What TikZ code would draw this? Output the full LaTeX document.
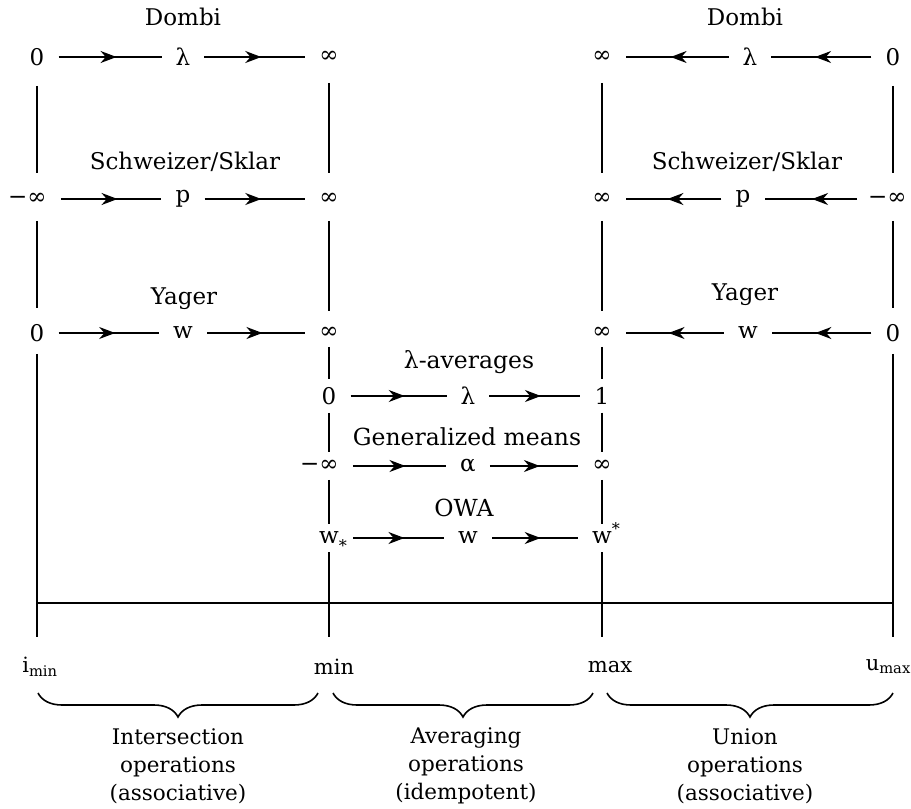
\documentclass[tikz,border=0pt]{standalone}
\usepackage{fontspec}
\setmainfont{DejaVu Serif}
\usetikzlibrary{arrows.meta,decorations.markings,decorations.pathreplacing}
\begin{document}
\begin{tikzpicture}[x=1pt,y=-1pt,
  lbl/.style={inner sep=0pt, font=\fontsize{23}{26}\selectfont},
  mlbl/.style={inner sep=0pt, font=\fontsize{23.5}{28}\selectfont},
  sym/.style={inner sep=0pt, font=\fontsize{23}{26}\selectfont},
  axl/.style={inner sep=0pt, font=\fontsize{21}{24}\selectfont},
  small/.style={inner sep=0pt, align=center, font=\fontsize{21.5}{28}\selectfont},
  conn/.style={line width=1.6pt, shorten >=14pt, shorten <=14pt},
  arr/.style={conn, postaction={decorate},
    decoration={markings, mark=at position 0.55 with {\arrow{Stealth[length=16pt,width=12pt]}}}},
  vl/.style={line width=1.6pt, shorten >=#1, shorten <=#1},
  vl/.default=12pt,
  brc/.style={line width=1.6pt, decorate, decoration={brace, mirror, amplitude=24pt, aspect=0.5}}
]
\useasboundingbox (0,0) rectangle (911,809);

% ---------- left block (intersection) ----------
\node[lbl] (tDL) at (183,17) {Dombi};
\node[sym] (L1a) at (37,57) {0};
\node[sym] (L1p) at (183,57) {λ};
\node[sym] (L1b) at (329,57) {∞};
\node[lbl] (tSL) at (185,162) {Schweizer/Sklar};
\node[sym] (L2a) at (37,199) {\llap{−}∞};
\node[sym] (L2p) at (183,199) {p};
\node[sym] (L2b) at (329,199) {∞};
\node[lbl] (tYL) at (184,299) {Yager};
\node[sym] (L3a) at (37,333) {0};
\node[sym] (L3p) at (183,333) {w};
\node[sym] (L3b) at (329,333) {∞};

\draw[arr] (L1a) -- (L1p);
\draw[arr] (L1p) -- (L1b);
\draw[arr] (L2a) -- (L2p);
\draw[arr] (L2p) -- (L2b);
\draw[arr] (L3a) -- (L3p);
\draw[arr] (L3p) -- (L3b);

% ---------- right block (union) ----------
\node[lbl] (tDR) at (745,17) {Dombi};
\node[sym] (R1a) at (602,57) {∞};
\node[sym] (R1p) at (750,57) {λ};
\node[sym] (R1b) at (893,57) {0};
\node[lbl] (tSR) at (747,162) {Schweizer/Sklar};
\node[sym] (R2a) at (602,199) {∞};
\node[sym] (R2p) at (743,199) {p};
\node[sym] (R2b) at (897,199) {\llap{−}∞};
\node[lbl] (tYR) at (745,295) {Yager};
\node[sym] (R3a) at (602,333) {∞};
\node[sym] (R3p) at (748,333) {w};
\node[sym] (R3b) at (893,333) {0};

\draw[arr] (R1b) -- (R1p);
\draw[arr] (R1p) -- (R1a);
\draw[arr, shorten <=30pt] (R2b) -- (R2p);
\draw[arr] (R2p) -- (R2a);
\draw[arr] (R3b) -- (R3p);
\draw[arr] (R3p) -- (R3a);

% ---------- middle block (averaging) ----------
\node[mlbl] (tLA) at (469,362) {λ-averages};
\node[sym] (M1a) at (329,396) {0};
\node[sym] (M1p) at (468,396) {λ};
\node[sym] (M1b) at (602,396) {1};
\node[mlbl] (tGM) at (467,437) {Generalized means};
\node[sym] (M2a) at (329,466) {\llap{−}∞};
\node[sym] (M2p) at (468,466) {α};
\node[sym] (M2b) at (602,466) {∞};
\node[mlbl] (tOW) at (464,508) {OWA};
\node[sym] (M3a) at (329,538) {w\rlap{\smash{\raisebox{-4pt}{\textsubscript{*}}}}};
\node[sym] (M3p) at (468,538) {w};
\node[sym] (M3b) at (602,538) {w\rlap{\smash{\textsuperscript{*}}}};

\draw[arr] (M1a) -- (M1p);
\draw[arr] (M1p) -- (M1b);
\draw[arr] (M2a) -- (M2p);
\draw[arr] (M2p) -- (M2b);
\draw[arr] (M3a) -- (M3p);
\draw[arr] (M3p) -- (M3b);

% ---------- bottom axis ----------
\coordinate (bL) at (37,637);
\coordinate (bMin) at (329,637);
\coordinate (bMax) at (602,637);
\coordinate (bR) at (893,637);
\coordinate (hL) at (37,603);
\coordinate (hR) at (893,603);

% vertical lines
\draw[vl=20pt] (L1a) -- (L2a);
\draw[vl=16pt] (L2a) -- (L3a);
\draw[line width=1.6pt, shorten <=12pt] (L3a) -- (bL);
\draw[vl=20pt] (L1b) -- (L2b);
\draw[vl=16pt] (L2b) -- (L3b);
\draw[vl=8pt] (L3b) -- (M1a);
\draw[vl=8pt] (M1a) -- (M2a);
\draw[vl=8pt] (M2a) -- (M3a);
\draw[line width=1.6pt, shorten <=8pt] (M3a) -- (bMin);
\draw[vl=20pt] (R1a) -- (R2a);
\draw[vl=16pt] (R2a) -- (R3a);
\draw[vl=8pt] (R3a) -- (M1b);
\draw[vl=8pt] (M1b) -- (M2b);
\draw[vl=8pt] (M2b) -- (M3b);
\draw[line width=1.6pt, shorten <=8pt] (M3b) -- (bMax);
\draw[vl=20pt] (R1b.south) -- (R1b.south |- R2b.north);
\draw[vl=16pt] (R1b.south |- R2b.south) -- (R3b.north);
\draw[line width=1.6pt, shorten <=12pt] (R3b) -- (bR);
\draw[line width=1.6pt] (hL) -- (hR);

% bottom labels
\node[axl] (imin) at (40,667) {i\textsubscript{min}};
\node[axl] (lmin) at (334,667) {min};
\node[axl] (lmax) at (610,667) {max};
\node[axl, anchor=east] (umax) at (911,667) {u\textsubscript{max}};

% braces
\coordinate (b1s) at (38,693);  \coordinate (b1e) at (318,693);
\coordinate (b2s) at (333,693); \coordinate (b2e) at (593,693);
\coordinate (b3s) at (607,693); \coordinate (b3e) at (893,693);
\draw[brc] (b1s) -- (b1e);
\draw[brc] (b2s) -- (b2e);
\draw[brc] (b3s) -- (b3e);

\node[small] (tInt) at (178,766) {Intersection\\operations\\(associative)};
\node[small] (tAvg) at (466,766) {Averaging\\operations\\(idempotent)};
\node[small] (tUni) at (745,766) {Union\\operations\\(associative)};
\end{tikzpicture}
\end{document}
